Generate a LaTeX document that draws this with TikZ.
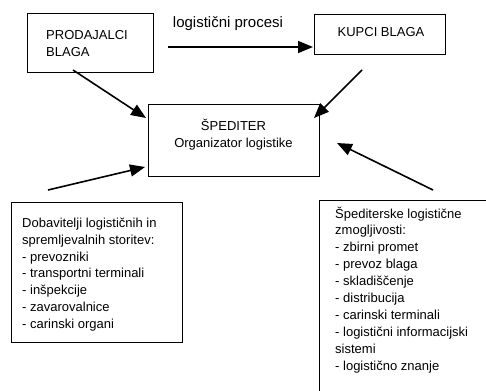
\documentclass[tikz,border=0pt]{standalone}
\usepackage{fontspec}
\setmainfont{Liberation Sans}
\usetikzlibrary{arrows.meta}
\begin{document}
\begin{tikzpicture}[x=1pt,y=-1pt,
  box/.style={draw, line width=0.8pt, anchor=north west, inner sep=0pt},
  txt/.style={font=\fontsize{13}{16.9}\selectfont, inner sep=0pt},
  arr/.style={line width=1.6pt, -{Triangle[length=15pt,width=12pt]}}]
\useasboundingbox (0,0) rectangle (486,390);
\clip (0,0) rectangle (486,390);
\fill[white] (0,0) rectangle (486,390);
% boxes
\node[box, minimum width=126pt, minimum height=59pt] (prod) at (27,13) {};
\node[box, minimum width=131pt, minimum height=40pt] (kup) at (314,14) {};
\node[box, minimum width=171pt, minimum height=72pt] (sped) at (148,104) {};
\node[box, minimum width=171pt, minimum height=140pt] (dob) at (11,202) {};
\node[box, minimum width=220pt, minimum height=240pt] (zmo) at (319,200) {};
% texts
\node[txt, anchor=west, align=left] (prodt) at (46,43.5) {PRODAJALCI\\BLAGA};
\node[txt] (kupt) at (381,32.5) {KUPCI BLAGA};
\node[txt, align=center] (spedt) at (233.5,134.5) {ŠPEDITER\\Organizator logistike};
\node[txt, font=\fontsize{15}{18}\selectfont] (proc) at (228,24) {logistični procesi};
\node[txt, anchor=north west, align=left] (dobt) at (22,217.6) {Dobavitelji logističnih in\\spremljevalnih storitev:\\- prevozniki\\- transportni terminali\\- inšpekcije\\- zavarovalnice\\- carinski organi};
\node[txt, anchor=north west, align=left] (zmot) at (335,206.5) {Špediterske logistične\\zmogljivosti:\\- zbirni promet\\- prevoz blaga\\- skladiščenje\\- distribucija\\- carinski terminali\\- logistični informacijski\\sistemi\\- logistično znanje};
% arrow ends
\coordinate (h1) at (168,47);
\coordinate (h2) at (313,47);
\coordinate (p1) at (73,70);
\coordinate (p2) at (146,118);
\coordinate (k1) at (362,70);
\coordinate (k2) at (314,118);
\coordinate (d1) at (48,190);
\coordinate (d2) at (145,167);
\coordinate (z1) at (433,190);
\coordinate (z2) at (337,143);
\draw[arr] (h1) -- (h2);
\draw[arr] (p1) -- (p2);
\draw[arr] (k1) -- (k2);
\draw[arr] (d1) -- (d2);
\draw[arr] (z1) -- (z2);
\end{tikzpicture}
\end{document}
